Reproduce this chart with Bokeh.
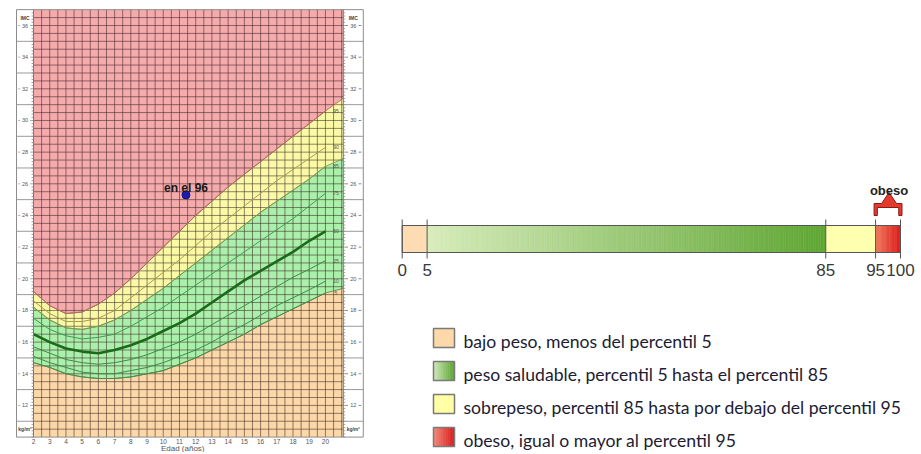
import numpy as np
from bokeh.plotting import figure
from bokeh.models import Range1d
from bokeh.core.properties import value
from bokeh.embed import file_html
from bokeh.resources import INLINE

# ---------------- data (BMI-for-age percentiles, boys) ----------------
ages = [2, 3, 4, 5, 6, 7, 8, 9, 10, 11, 12, 13, 14, 15, 16, 17, 18, 19, 20]
p5  = [14.7, 14.4, 14.0, 13.8, 13.7, 13.7, 13.8, 14.0, 14.2, 14.6, 15.0, 15.5, 16.0, 16.5, 17.1, 17.6, 18.1, 18.6, 19.1]
p10 = [15.1, 14.7, 14.4, 14.1, 14.0, 14.0, 14.2, 14.4, 14.7, 15.1, 15.5, 16.0, 16.6, 17.1, 17.7, 18.3, 18.8, 19.3, 19.85]
p25 = [15.7, 15.3, 14.9, 14.7, 14.6, 14.7, 14.9, 15.2, 15.6, 16.0, 16.5, 17.1, 17.7, 18.3, 18.9, 19.5, 20.1, 20.6, 21.15]
p50 = [16.5, 16.0, 15.6, 15.4, 15.3, 15.5, 15.8, 16.2, 16.7, 17.2, 17.8, 18.5, 19.2, 19.9, 20.5, 21.1, 21.7, 22.4, 23.0]
p75 = [17.5, 16.8, 16.4, 16.2, 16.3, 16.5, 17.0, 17.6, 18.2, 18.9, 19.6, 20.3, 21.0, 21.7, 22.4, 23.1, 23.8, 24.6, 25.4]
p85 = [18.2, 17.4, 16.9, 16.8, 17.0, 17.4, 18.0, 18.7, 19.4, 20.2, 21.0, 21.8, 22.6, 23.4, 24.2, 24.9, 25.6, 26.3, 27.1]
p90 = [18.6, 17.8, 17.3, 17.3, 17.5, 18.0, 18.8, 19.6, 20.4, 21.2, 22.1, 23.0, 23.8, 24.6, 25.4, 26.2, 26.9, 27.6, 28.3]
p95 = [19.2, 18.3, 17.8, 17.9, 18.4, 19.1, 20.0, 21.0, 22.0, 23.0, 24.0, 24.9, 25.8, 26.6, 27.4, 28.2, 29.0, 29.8, 30.6]
pct_names = ["5", "10", "25", "50", "75", "85", "90", "95"]

# colour bands continue to the chart edge
edge_age = 21.1
edge_p5, edge_p85, edge_p95 = 19.4, 27.6, 31.4

bmi_ticks = [12, 14, 16, 18, 20, 22, 24, 26, 28, 30, 32, 34, 36]
age_ticks = ages
x_title = "Edad (años)"

child_age, child_bmi = 11.4, 25.3
child_label = "en el 96"

bar_cuts = [0, 5, 85, 95, 100]
bar_labels = ["0", "5", "85", "95", "100"]
legend_labels = [
    "bajo peso, menos del percentil 5",
    "peso saludable, percentil 5 hasta el percentil 85",
    "sobrepeso, percentil 85 hasta por debajo del percentil 95",
    "obeso, igual o mayor al percentil 95",
]

# ---------------- styles / layout ----------------
C_PEACH = "#fcd8a8"
C_GREEN = "#aaf0aa"
C_YELLOW = "#fafaa6"
C_RED = "#f5aaac"
GRID_C = "#3a2424"
FONT = value("Liberation Sans")

W, H = 916, 452
AGE_X0, AGE_PXU = 33.0, 16.22      # page x of age 2, px per year
BMI_Y36, BMI_PXU = 25.0, 15.83     # page y of BMI 36, px per unit
PCT_X0, PCT_PXU = 401.7, 4.983     # page x of 0 %, px per percentile unit
BMI_MIN, BMI_MAX = 10, 37
AGE_MIN = ages[0]
X_LO = AGE_MIN - 17 / AGE_PXU
X_HI = edge_age + 20 / AGE_PXU

p = figure(width=W, height=H, x_range=Range1d(0, W), y_range=Range1d(H, 0),
           output_backend="svg", toolbar_location=None, title=None,
           x_axis_location=None, y_axis_location=None,
           min_border=0, min_border_left=0, min_border_right=0,
           min_border_top=0, min_border_bottom=0)
p.grid.visible = False
p.outline_line_color = None
p.background_fill_color = "white"
p.border_fill_color = "white"
p.extra_x_ranges = {
    "age": Range1d(AGE_MIN - AGE_X0 / AGE_PXU, AGE_MIN + (W - AGE_X0) / AGE_PXU),
    "pct": Range1d(-PCT_X0 / PCT_PXU, (W - PCT_X0) / PCT_PXU),
}
p.extra_y_ranges = {"bmi": Range1d(36 - (H - BMI_Y36) / BMI_PXU, 36 + BMI_Y36 / BMI_PXU)}
A = dict(x_range_name="age", y_range_name="bmi")

# ---------------- left: growth chart ----------------
band_x = ages + [edge_age]
b5 = p5 + [edge_p5]
b85 = p85 + [edge_p85]
b95 = p95 + [edge_p95]
p.varea(x=band_x, y1=BMI_MIN, y2=b5, fill_color=C_PEACH, **A)
p.varea(x=band_x, y1=b5, y2=b85, fill_color=C_GREEN, **A)
p.varea(x=band_x, y1=b85, y2=b95, fill_color=C_YELLOW, **A)
p.varea(x=band_x, y1=b95, y2=BMI_MAX, fill_color=C_RED, **A)

gx = np.arange(AGE_MIN, edge_age, 0.5)
p.segment(x0=gx, y0=BMI_MIN, x1=gx, y1=BMI_MAX, line_color=GRID_C, line_alpha=0.55, line_width=1, **A)
gy = np.arange(BMI_MIN + 0.5, BMI_MAX, 0.5)
p.segment(x0=AGE_MIN, y0=gy, x1=edge_age, y1=gy, line_color=GRID_C, line_alpha=0.55, line_width=1, **A)

for b, c in [(b5, "#5a8a50"), (b85, "#7a9a50"), (b95, "#b06a60")]:
    p.line(band_x, b, line_color=c, line_width=1, line_alpha=0.9, **A)

series = [p5, p10, p25, p50, p75, p85, p90, p95]
colors = ["#4a8a4a", "#3d8a4a", "#3d8a4a", "#1b6a1b", "#3f9a55", "#7a9a50", "#a89a50", "#b06a60"]
for s, c, n in zip(series, colors, pct_names):
    p.line(ages, s, line_color=c, line_width=2.6 if n == "50" else 1, **A)

p.text(x=[ages[-1] + 0.65] * len(series), y=[s[-1] for s in series], text=pct_names,
       text_font=FONT, text_font_size="5px", text_color="#555555",
       text_align="center", text_baseline="middle", **A)

# side strips
for a, b in [(X_LO, AGE_MIN), (edge_age, X_HI)]:
    p.quad(left=a, right=b, bottom=BMI_MIN, top=BMI_MAX, fill_color="white", line_color=None, **A)
odd = sorted(set([t - 1 for t in bmi_ticks] + [bmi_ticks[-1] - 1]))
ry = np.arange(BMI_MIN, BMI_MAX, 0.2)
for a, b in [(X_LO, AGE_MIN), (edge_age, X_HI)]:
    p.segment(x0=a, y0=odd, x1=b, y1=odd, line_color="#9a9a9a", line_width=1, **A)
    if a == X_LO:
        p.segment(x0=b - 0.12, y0=ry, x1=b, y1=ry, line_color="#8a8a8a", line_width=0.8, **A)
    else:
        p.segment(x0=a, y0=ry, x1=a + 0.12, y1=ry, line_color="#8a8a8a", line_width=0.8, **A)
    cx = (a + b) / 2
    p.segment(x0=a + 0.12, y0=bmi_ticks, x1=cx - 0.33, y1=bmi_ticks, line_color="#888888", line_width=1, **A)
    p.segment(x0=cx + 0.33, y0=bmi_ticks, x1=b - 0.12, y1=bmi_ticks, line_color="#888888", line_width=1, **A)
    p.text(x=[cx] * len(bmi_ticks), y=bmi_ticks, text=[str(t) for t in bmi_ticks],
           text_font=FONT, text_font_size="5.5px", text_color="#555555",
           text_align="center", text_baseline="middle", **A)
    p.text(x=[cx], y=[BMI_MAX - 0.5], text=["IMC"], text_font=FONT, text_font_size="5px",
           text_font_style="bold", text_color="#444444", text_align="center", text_baseline="middle", **A)
    p.text(x=[cx], y=[BMI_MIN + 0.5], text=["kg/m²"], text_font=FONT, text_font_size="5px",
           text_font_style="bold", text_color="#444444", text_align="center", text_baseline="middle", **A)

# borders
p.segment(x0=[AGE_MIN, edge_age], y0=BMI_MIN, x1=[AGE_MIN, edge_age], y1=BMI_MAX,
          line_color="#7a7a7a", line_width=1, **A)
p.quad(left=X_LO, right=X_HI, bottom=BMI_MIN, top=BMI_MAX, fill_color=None,
       line_color="#8c8c8c", line_width=1, **A)

# child's point
p.scatter(x=[child_age], y=[child_bmi], size=8, fill_color="#1c1cb0", line_color="#10107a", **A)
p.text(x=[child_age], y=[child_bmi + 0.45], text=[child_label], text_font=FONT,
       text_font_size="12px", text_font_style="bold", text_color="#1a1a1a",
       text_align="center", text_baseline="middle", **A)

# age axis labels (page y positions)
p.text(x=age_ticks, y=[441] * len(age_ticks), text=[str(a) for a in age_ticks], x_range_name="age",
       text_font=FONT, text_font_size="6.5px", text_color="#555555",
       text_align="center", text_baseline="middle")
p.text(x=[11.2], y=[448], text=[x_title], x_range_name="age",
       text_font=FONT, text_font_size="8px", text_color="#555555",
       text_align="center", text_baseline="middle")

# ---------------- right: percentile bar ----------------
def mix(c1, c2, t):
    a = np.array([int(c1[i:i + 2], 16) for i in (1, 3, 5)])
    b = np.array([int(c2[i:i + 2], 16) for i in (1, 3, 5)])
    v = (a + (b - a) * t).round().astype(int)
    return "#%02x%02x%02x" % tuple(v)

def gradient(x0, x1, y0, y1, c1, c2, n, **kw):
    e = np.linspace(x0, x1, n + 1)
    cols = [mix(c1, c2, (i + 0.5) / n) for i in range(n)]
    p.quad(left=e[:-1], right=e[1:], bottom=y0, top=y1, fill_color=cols, line_color=cols,
           line_width=0.6, **kw)

P = dict(x_range_name="pct")
BAR_TOP, BAR_BOT = 225, 252
p.quad(left=bar_cuts[0], right=bar_cuts[1], bottom=BAR_BOT, top=BAR_TOP, fill_color="#fddcb4",
       line_color=None, **P)
gradient(bar_cuts[1], bar_cuts[2], BAR_BOT, BAR_TOP, "#d8ecbc", "#5ea632", 160, **P)
p.quad(left=bar_cuts[2], right=bar_cuts[3], bottom=BAR_BOT, top=BAR_TOP, fill_color="#ffffb0",
       line_color=None, **P)
gradient(bar_cuts[3], bar_cuts[4], BAR_BOT, BAR_TOP, "#f27a5a", "#dc1a1a", 20, **P)
p.quad(left=bar_cuts[0], right=bar_cuts[-1], bottom=BAR_BOT, top=BAR_TOP, fill_color=None,
       line_color="#555555", line_width=1, **P)
p.segment(x0=bar_cuts, y0=BAR_TOP - 6, x1=bar_cuts, y1=BAR_BOT + 6, line_color="#555555",
          line_width=1, **P)
p.text(x=bar_cuts, y=[269] * len(bar_cuts), text=bar_labels,
       text_font=FONT, text_font_size="17px", text_color="#3a3a3a",
       text_align="center", text_baseline="middle", **P)

# "obeso" bracket with arrow
o0, o1 = bar_cuts[3], bar_cuts[4]
oc = (o0 + o1) / 2 + 0.2
lw = 0.65
bxs = [o0 - 0.3, o0 - 0.3, oc - 1.5, oc, oc + 1.5, o1 + 0.3, o1 + 0.3, o1 + 0.3 - lw, o1 + 0.3 - lw,
       o0 - 0.3 + lw, o0 - 0.3 + lw]
bys = [215, 203, 203, 192, 203, 203, 215, 215, 207, 207, 215]
p.patch(bxs, bys, fill_color="#e23a2e", line_color="#8c1a12", line_width=1, **P)
p.text(x=[oc], y=[190], text=["obeso"], text_font=FONT, text_font_size="13px",
       text_font_style="bold", text_color="#222222", text_align="center",
       text_baseline="alphabetic", **P)

# ---------------- legend ----------------
row_py = [337.5, 370.5, 403.5, 436.5]
SQ_X0, SQ_X1 = 433, 454
for i, (py, lab) in enumerate(zip(row_py, legend_labels)):
    y0, y1 = py + 9.5, py - 9.5
    if i == 0:
        p.quad(left=SQ_X0, right=SQ_X1, bottom=y0, top=y1, fill_color="#fdd9aa", line_color=None)
    elif i == 1:
        gradient(SQ_X0, SQ_X1, y0, y1, "#d4eabc", "#5aa532", 12)
    elif i == 2:
        p.quad(left=SQ_X0, right=SQ_X1, bottom=y0, top=y1, fill_color="#ffffa6", line_color=None)
    else:
        gradient(SQ_X0, SQ_X1, y0, y1, "#f48a7a", "#d81c1c", 12)
    p.quad(left=SQ_X0, right=SQ_X1, bottom=y0, top=y1, fill_color=None, line_color="#7a7a7a",
           line_width=1.5)
    p.text(x=[463], y=[py + 3], text=[lab], text_font=value("Lato"), text_font_size="17.6px",
           text_color="#1c1c34", text_align="left", text_baseline="middle")

open("out.html", "w").write(file_html(p, INLINE))
